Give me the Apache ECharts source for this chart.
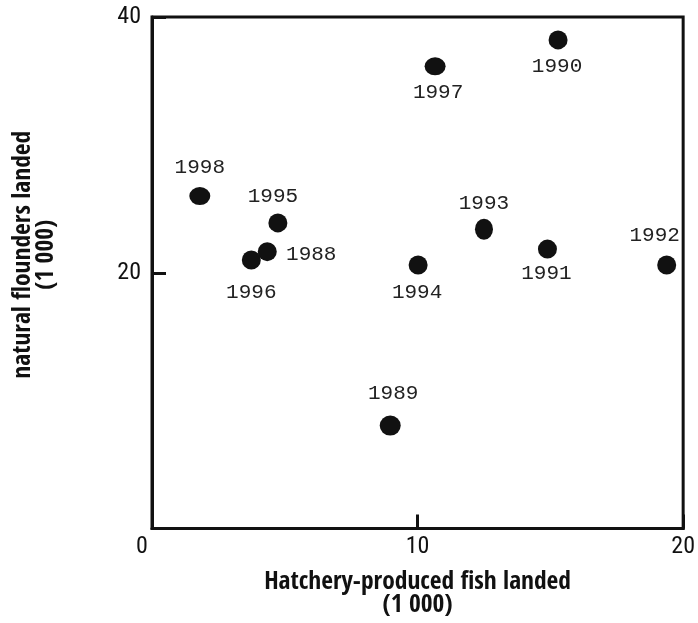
<!DOCTYPE html>
<html>
<head>
<meta charset="utf-8">
<script src="https://cdn.jsdelivr.net/npm/echarts@6/dist/echarts.min.js"></script>
<style>
html,body{margin:0;padding:0;background:#fff;}
#chart{width:698px;height:623px;}
</style>
</head>
<body>
<div id="chart"></div>
<script>
// ---- data ----
const years = ['1988','1989','1990','1991','1992','1993','1994','1995','1996','1997','1998'];
const hatchery = [4.34, 8.97, 15.29, 14.89, 19.38, 12.50, 10.02, 4.74, 3.74, 10.66, 1.80];
const natural  = [21.65, 8.05, 38.21, 21.85, 20.61, 23.40, 20.61, 23.90, 21.00, 36.14, 26.00];
const xTicks = [0, 10, 20];
const yTicks = [20, 40];
const xName = 'Hatchery-produced fish landed\n(1 000)';
const yName = 'natural flounders landed\n(1 000)';

// ---- styling (label placement and mark size per year) ----
const labelOffset = {
  '1988': [44, 3], '1989': [3, -32], '1990': [-1, 27], '1991': [-1, 24],
  '1992': [-12, -30], '1993': [0, -26], '1994': [-1, 27], '1995': [-5, -26],
  '1996': [0, 32], '1997': [3, 26], '1998': [0, -29]
};
const markSize = { '1998': [21, 18], '1997': [21, 18], '1989': [21, 20], '1993': [18, 21] };

const points = years.map((y, i) => ({
  value: [hatchery[i], natural[i]],
  name: y,
  symbolSize: markSize[y] || [19, 19],
  label: { offset: labelOffset[y] }
}));

const ink = '#111';
const nameFont = "'Open Sans Condensed', 'Roboto Condensed', sans-serif";
const tickFont = "'Roboto Condensed', 'Open Sans', sans-serif";
const chart = echarts.init(document.getElementById('chart'), null, { renderer: 'canvas' });
chart.setOption({
  animation: false,
  backgroundColor: '#fff',
  grid: {
    left: 152, right: 10, top: 17, bottom: 91,
    show: true, borderColor: ink, borderWidth: 3, backgroundColor: 'transparent'
  },
  xAxis: {
    type: 'value', min: 0, max: 20, interval: 10,
    name: xName, nameLocation: 'middle', nameGap: 42,
    nameTextStyle: { fontFamily: nameFont, fontWeight: 'bold', fontSize: 25.5, color: ink, lineHeight: 23 },
    axisLine: { show: true, lineStyle: { color: ink, width: 3 } },
    axisTick: { show: true, inside: true, length: 14, lineStyle: { color: ink, width: 3 } },
    splitLine: { show: false },
    axisLabel: {
      margin: 6, fontFamily: tickFont, fontSize: 24, color: ink,
      formatter: v => xTicks.indexOf(v) === 0 ? '{z|' + v + '}' : String(v),
      rich: { z: { fontFamily: tickFont, fontSize: 24, color: ink, padding: [0, 20, 0, 0] } }
    }
  },
  yAxis: {
    type: 'value', min: 0, max: 40, interval: 20,
    name: yName, nameLocation: 'middle', nameGap: 94,
    nameTextStyle: { fontFamily: nameFont, fontWeight: 'bold', fontSize: 25.5, color: ink, lineHeight: 23, padding: [0, 0, 0, 36] },
    axisLine: { show: true, lineStyle: { color: ink, width: 3 } },
    axisTick: { show: true, inside: true, length: 14, lineStyle: { color: ink, width: 3 } },
    splitLine: { show: false },
    axisLabel: {
      margin: 11, fontFamily: tickFont, fontSize: 24, color: ink,
      showMinLabel: false,
      formatter: v => yTicks.indexOf(v) >= 0 ? String(v) : ''
    }
  },
  series: [{
    type: 'scatter',
    data: points,
    symbol: 'circle',
    itemStyle: { color: ink, opacity: 1 },
    label: {
      show: true, position: 'inside', align: 'center', verticalAlign: 'middle',
      formatter: p => p.name,
      fontFamily: 'Liberation Mono', fontSize: 21, color: '#222'
    },
    emphasis: { disabled: true }
  }]
});
</script>
</body>
</html>
